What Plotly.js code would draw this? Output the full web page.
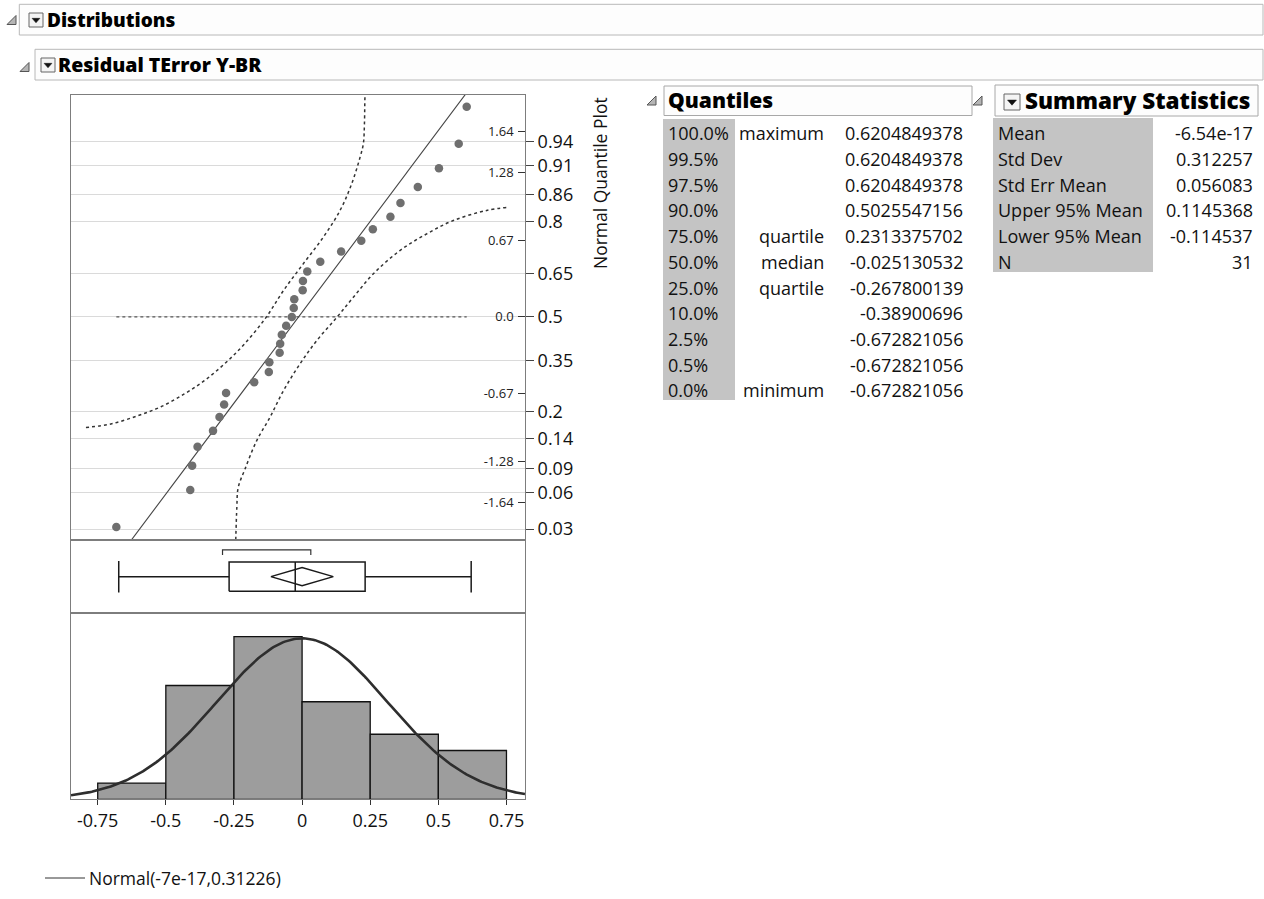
<!DOCTYPE html>
<html><head><meta charset="utf-8">
<script src="https://cdn.plot.ly/plotly-3.0.1.min.js"></script>
<style>html,body{margin:0;padding:0;background:#fff;}#chart{width:1264px;height:899px;}</style>
</head><body><div id="chart"></div>
<script>
// ---------- data ----------
const residuals = [-0.672821056,-0.400,-0.393,-0.373,-0.316,-0.292,-0.275,-0.267800139,
  -0.164,-0.110,-0.108,-0.070,-0.068,-0.062,-0.046,-0.025130532,-0.018,-0.016,
  0.015,0.016,0.032,0.080,0.157,0.2313375702,0.274,0.339,0.376,0.440,0.518,0.591,0.6204849378];
const bandUpperX = [-0.785,-0.693,-0.594,-0.508,-0.422,-0.348,-0.274,-0.200,-0.120,-0.056,0.017,0.091,0.153,0.196,0.227,0.239,0.243,0.245,0.246];
const bandUpperZ = [-0.980,-0.949,-0.876,-0.796,-0.683,-0.565,-0.417,-0.240,-0.004,0.233,0.470,0.706,0.943,1.180,1.416,1.535,1.713,1.949,1.969];
const bandLowerX = [-0.232,-0.228,-0.223,-0.198,-0.155,-0.106,-0.056,0.005,0.067,0.141,0.202,0.276,0.374,0.473,0.571,0.694,0.774];
const bandLowerZ = [-1.977,-1.689,-1.512,-1.349,-1.098,-0.891,-0.654,-0.417,-0.210,-0.004,0.174,0.382,0.588,0.736,0.854,0.943,0.972];
const fitMean = -6.54e-17, fitSD = 0.312257;
const boxMin = -0.672821056, boxQ1 = -0.267800139, boxMedian = -0.025130532, boxQ3 = 0.2313375702, boxMax = 0.6204849378;
const meanCI = [-0.114537, 0.1145368];
const shortestHalf = [-0.292, 0.032];
const histStart = -0.75, histEnd = 0.75, histBinSize = 0.25;
const histTickVals = [-0.75,-0.5,-0.25,0,0.25,0.5,0.75];
const histTickText = ['-0.75','-0.5','-0.25','0','0.25','0.5','0.75'];
const zTickVals = [1.645,1.2816,0.6745,0,-0.6745,-1.2816,-1.645];
const zTickText = ['1.64','1.28','0.67','0.0','-0.67','-1.28','-1.64'];
const probTicks = [0.03,0.06,0.09,0.14,0.2,0.35,0.5,0.65,0.8,0.86,0.91,0.94];
const probTickText = ['0.03','0.06','0.09','0.14','0.2','0.35','0.5','0.65','0.8','0.86','0.91','0.94'];
const quantPct = ['100.0%','99.5%','97.5%','90.0%','75.0%','50.0%','25.0%','10.0%','2.5%','0.5%','0.0%'];
const quantLbl = ['maximum','','','','quartile','median','quartile','','','','minimum'];
const quantVal = ['0.6204849378','0.6204849378','0.6204849378','0.5025547156','0.2313375702','-0.025130532','-0.267800139','-0.38900696','-0.672821056','-0.672821056','-0.672821056'];
const sumLbl = ['Mean','Std Dev','Std Err Mean','Upper 95% Mean','Lower 95% Mean','N'];
const sumVal = ['-6.54e-17','0.312257','0.056083','0.1145368','-0.114537','31'];
const legendText = 'Normal(-7e-17,0.31226)';
const titleMain = 'Distributions', titleVar = 'Residual TError Y-BR';
const titleQuant = 'Quantiles', titleSum = 'Summary Statistics', qqTitle = 'Normal Quantile Plot';

// ---------- helpers ----------
function normInv(p){
 const a=[-3.969683028665376e+01,2.209460984245205e+02,-2.759285104469687e+02,1.383577518672690e+02,-3.066479806614716e+01,2.506628277459239e+00];
 const b=[-5.447609879822406e+01,1.615858368580409e+02,-1.556989798598866e+02,6.680131188771972e+01,-1.328068155288572e+01];
 const c=[-7.784894002430293e-03,-3.223964580411365e-01,-2.400758277161838e+00,-2.549732539343734e+00,4.374664141464968e+00,2.938163982698783e+00];
 const d=[7.784695709041462e-03,3.224671290700398e-01,2.445134137142996e+00,3.754408661907416e+00];
 const pl=0.02425, ph=1-pl; let q,r;
 if(p<pl){q=Math.sqrt(-2*Math.log(p));return (((((c[0]*q+c[1])*q+c[2])*q+c[3])*q+c[4])*q+c[5])/((((d[0]*q+d[1])*q+d[2])*q+d[3])*q+1);}
 if(p<=ph){q=p-0.5;r=q*q;return (((((a[0]*r+a[1])*r+a[2])*r+a[3])*r+a[4])*r+a[5])*q/(((((b[0]*r+b[1])*r+b[2])*r+b[3])*r+b[4])*r+1);}
 q=Math.sqrt(-2*Math.log(1-p));return -(((((c[0]*q+c[1])*q+c[2])*q+c[3])*q+c[4])*q+c[5])/((((d[0]*q+d[1])*q+d[2])*q+d[3])*q+1);
}
const W=1264,H=899;
const PX=v=>v/W, PY=v=>1-v/H;
const FONT='"Open Sans","Noto Sans",sans-serif';

// ---------- layout geometry ----------
const plotL=71, plotR=525, qqTop=94.7, qqBot=540, boxBot=613.3, histBot=799.3;
const qqXRange=[-0.8402,0.8357];
const xRange=[-0.848,0.818];
const zRange=[-1.977,1.969];
const histYRange=[0,11.44];

const n=residuals.length;
const zScores=residuals.map((_,i)=>normInv((i+1)/(n+1)));

const traces=[];
traces.push({type:'scatter',mode:'markers',x:[0],y:[0],xaxis:'x',yaxis:'y4',marker:{opacity:0},hoverinfo:'skip',showlegend:false});
traces.push({type:'scatter',mode:'lines',x:[residuals[0],residuals[n-1]],y:[0,0],xaxis:'x',yaxis:'y',
  line:{color:'#555',width:1.3,dash:'dot'},hoverinfo:'skip',showlegend:false});
traces.push({type:'scatter',mode:'lines',x:bandUpperX,y:bandUpperZ,xaxis:'x',yaxis:'y',
  line:{color:'#333',width:1.5,dash:'dot',shape:'spline'},hoverinfo:'skip',showlegend:false});
traces.push({type:'scatter',mode:'lines',x:bandLowerX,y:bandLowerZ,xaxis:'x',yaxis:'y',
  line:{color:'#333',width:1.5,dash:'dot',shape:'spline'},hoverinfo:'skip',showlegend:false});
const zLine=[zRange[0]-0.3,zRange[1]+0.3];
traces.push({type:'scatter',mode:'lines',x:zLine.map(z=>fitMean+fitSD*z),y:zLine,xaxis:'x',yaxis:'y',
  line:{color:'#444',width:1.1},hoverinfo:'skip',showlegend:false});
traces.push({type:'scatter',mode:'markers',x:residuals,y:zScores,xaxis:'x',yaxis:'y',
  marker:{color:'#6f6f6f',size:8.5},hoverinfo:'skip',showlegend:false});

// Box panel
const bl={color:'#1a1a1a',width:1.5};
traces.push({type:'scatter',mode:'lines',x:[boxMin,boxQ1,null,boxQ3,boxMax],y:[0,0,null,0,0],xaxis:'x2',yaxis:'y2',line:bl,hoverinfo:'skip',showlegend:false});
traces.push({type:'scatter',mode:'lines',x:[boxMin,boxMin,null,boxMax,boxMax],y:[-0.43,0.43,null,-0.43,0.43],xaxis:'x2',yaxis:'y2',line:bl,hoverinfo:'skip',showlegend:false});
traces.push({type:'scatter',mode:'lines',x:[boxQ1,boxQ3,boxQ3,boxQ1,boxQ1],y:[-0.4,-0.4,0.4,0.4,-0.4],xaxis:'x2',yaxis:'y2',line:bl,hoverinfo:'skip',showlegend:false});
traces.push({type:'scatter',mode:'lines',x:[boxMedian,boxMedian],y:[-0.4,0.4],xaxis:'x2',yaxis:'y2',line:bl,hoverinfo:'skip',showlegend:false});
const meanC=(meanCI[0]+meanCI[1])/2;
traces.push({type:'scatter',mode:'lines',x:[meanCI[0],meanC,meanCI[1],meanC,meanCI[0]],y:[0,0.25,0,-0.25,0],xaxis:'x2',yaxis:'y2',line:bl,hoverinfo:'skip',showlegend:false});
traces.push({type:'scatter',mode:'lines',x:[shortestHalf[0],shortestHalf[0],shortestHalf[1],shortestHalf[1]],y:[0.59,0.73,0.73,0.59],xaxis:'x2',yaxis:'y2',
  line:{color:'#333',width:1.2},hoverinfo:'skip',showlegend:false});

// Histogram
traces.push({type:'histogram',x:residuals,xaxis:'x3',yaxis:'y3',autobinx:false,
  xbins:{start:histStart,end:histEnd,size:histBinSize},
  marker:{color:'#9d9d9d',line:{color:'#111',width:1.3}},hoverinfo:'skip',showlegend:false});
const nc=[];const ncy=[];
for(let i=0;i<=240;i++){const x=xRange[0]+(xRange[1]-xRange[0])*i/240;nc.push(x);
  ncy.push(n*histBinSize*Math.exp(-0.5*Math.pow((x-fitMean)/fitSD,2))/(fitSD*Math.sqrt(2*Math.PI)));}
traces.push({type:'scatter',mode:'lines',x:nc,y:ncy,xaxis:'x3',yaxis:'y3',
  line:{color:'#2e2e2e',width:2.6},hoverinfo:'skip',showlegend:false});

const frameCol='#7d7d7d';
const xdom=[PX(plotL),PX(plotR)];
const baseAx={showgrid:false,zeroline:false,showline:true,mirror:true,linecolor:frameCol,linewidth:1,fixedrange:true};

const shapes=[];
const annotations=[];
function ann(x,y,text,opt){annotations.push(Object.assign({xref:'paper',yref:'paper',x:PX(x),y:PY(y),text:text,showarrow:false,
  xanchor:'left',yanchor:'middle',font:{family:FONT,size:18,color:'#111'}},opt||{}));}
function rectP(x0,y0,x1,y1,line,fill){shapes.push({type:'rect',xref:'paper',yref:'paper',x0:PX(x0),x1:PX(x1),y0:PY(y1),y1:PY(y0),
  line:line,fillcolor:fill||'rgba(0,0,0,0)',layer:'below'});}
function pathP(pts,line,fill){let s='';pts.forEach((p,i)=>{s+=(i?'L':'M')+PX(p[0])+','+PY(p[1]);});s+='Z';
  shapes.push({type:'path',xref:'paper',yref:'paper',path:s,line:line,fillcolor:fill,layer:'above'});}
function triIcon(x,y){pathP([[x,y+4.5],[x+9,y+4.5],[x+9,y-4.5]],{color:'#555',width:1},'#b5b5b5');}
function dropIcon(x0,y0,s){shapes.push({type:'rect',xref:'paper',yref:'paper',x0:PX(x0),x1:PX(x0+s),y0:PY(y0+s),y1:PY(y0),
  line:{color:'#666',width:1},fillcolor:'#f4f4f4',layer:'above'});
  pathP([[x0+s*0.22,y0+s*0.38],[x0+s*0.78,y0+s*0.38],[x0+s*0.5,y0+s*0.7]],{color:'#111',width:0.5},'#111');}

const HF=(sz)=>({family:FONT,size:sz,color:'#000',weight:800});
// headers
rectP(19.3,4.3,1263,35,{color:'#b8b8b8',width:1},'#fdfdfd');
rectP(35,49.3,1263,80,{color:'#b8b8b8',width:1},'#fdfdfd');
triIcon(7,20); dropIcon(29,13,14);
triIcon(20,67); dropIcon(41,58,14);
ann(44.5,19.5,titleMain,{font:HF(19)});
ann(56,65,titleVar,{font:HF(19.5)});

// Quantiles table
rectP(664,86,972,115.5,{color:'#a8a8a8',width:1},'#fdfdfd');
triIcon(647,100.5);
ann(666,100,titleQuant,{font:HF(21)});
rectP(663,119,735,400,{width:0},'#c4c4c4');
quantPct.forEach((t,i)=>{const y=133.3+i*25.7;
  ann(666,y,t); if(quantLbl[i]) ann(826,y,quantLbl[i],{xanchor:'right'}); ann(965,y,quantVal[i],{xanchor:'right'});});

// Summary table
rectP(995,85,1258,116,{color:'#a8a8a8',width:1},'#fdfdfd');
triIcon(973,100.5); dropIcon(1004,94,16);
ann(1023,100,titleSum,{font:HF(22.5)});
rectP(993,118,1153,272,{width:0},'#c4c4c4');
sumLbl.forEach((t,i)=>{const y=133.3+i*25.7; ann(996,y,t); ann(1255,y,sumVal[i],{xanchor:'right'});});

// QQ title
ann(600,183,qqTitle,{textangle:-90,xanchor:'center',yanchor:'middle',font:{family:FONT,size:17.5,color:'#111'}});

// legend
shapes.push({type:'line',xref:'paper',yref:'paper',x0:PX(45),x1:PX(85),y0:PY(878),y1:PY(878),line:{color:'#333',width:1}});
ann(87,878,legendText,{font:{family:FONT,size:17.5,color:'#111'}});

const layout={
  width:W,height:H,margin:{l:0,r:0,t:0,b:0},paper_bgcolor:'#fff',plot_bgcolor:'#fff',
  showlegend:false,bargap:0,font:{family:FONT,color:'#111'},
  xaxis:Object.assign({},baseAx,{domain:xdom,range:qqXRange,anchor:'y',showticklabels:false,ticks:''}),
  xaxis2:Object.assign({},baseAx,{domain:xdom,range:xRange,anchor:'y2',showticklabels:false,ticks:''}),
  xaxis3:Object.assign({},baseAx,{domain:xdom,range:xRange,anchor:'y3',ticks:'outside',ticklen:5,tickcolor:'#333',
     tickvals:histTickVals,ticktext:histTickText,tickfont:{family:FONT,size:18,color:'#111'}}),
  yaxis:Object.assign({},baseAx,{domain:[PY(qqBot),PY(qqTop)],range:zRange,anchor:'x',side:'right',
     tickvals:zTickVals,ticktext:zTickText,ticks:'inside',ticklen:7,tickcolor:'#333',ticklabelposition:'inside',
     ticklabelstandoff:4,tickfont:{family:FONT,size:13,color:'#222'}}),
  yaxis4:{overlaying:'y',anchor:'x',side:'right',range:zRange,fixedrange:true,zeroline:false,showline:false,
     tickvals:probTicks.map(normInv),ticktext:probTickText,ticks:'outside',ticklen:8,tickcolor:'#444',
     showgrid:true,gridcolor:'#dadada',gridwidth:1,tickfont:{family:FONT,size:18,color:'#111'}},
  yaxis2:Object.assign({},baseAx,{domain:[PY(boxBot),PY(qqBot)],range:[-1,1],anchor:'x2',showticklabels:false,ticks:''}),
  yaxis3:Object.assign({},baseAx,{domain:[PY(histBot),PY(boxBot)],range:histYRange,anchor:'x3',showticklabels:false,ticks:''}),
  shapes:shapes,annotations:annotations
};
Plotly.newPlot('chart',traces,layout,{displayModeBar:false,staticPlot:true});
</script></body></html>
